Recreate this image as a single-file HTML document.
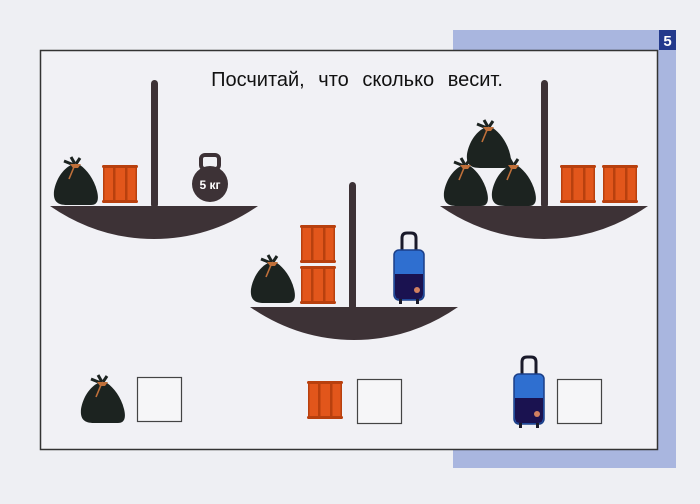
<!DOCTYPE html>
<html><head><meta charset="utf-8"><style>
html,body{margin:0;padding:0;background:#eeeff3;}
svg{display:block}
</style></head><body>
<svg width="700" height="504" viewBox="0 0 700 504" xmlns="http://www.w3.org/2000/svg">
<defs>
<g id="bag">
<path d="M18 10 C10 14 3 24 1 36 C0 46 4 50 14 50 L38 50 C45 50 46 44 44 36 C41 24 34 15 27 10 Z" fill="#1c2320"/>
<path d="M18 2 L22 9 M11 6 L21 10 M27 3 L23 9" stroke="#1c2320" stroke-width="3"/>
<path d="M17 9 L28 9 L25 13 L20 13 Z" fill="#c0703a"/>
<path d="M21 12 L16 24" stroke="#c0703a" stroke-width="1.6"/>
</g>
<g id="crate">
<rect x="1" y="1" width="34" height="38" fill="#e2561b"/>
<rect x="0" y="1" width="36" height="3" rx="1.5" fill="#b8400e"/>
<rect x="0" y="36" width="36" height="3" rx="1.5" fill="#b8400e"/>
<rect x="11" y="2" width="2.5" height="36" fill="#b8400e"/>
<rect x="23" y="2" width="2.5" height="36" fill="#b8400e"/>
<rect x="1" y="2" width="1.5" height="36" fill="#b8400e"/>
<rect x="33.5" y="2" width="1.5" height="36" fill="#b8400e"/>
</g>
<g id="case">
<path d="M9 19 L9 6 Q9 1 14 1 L18 1 Q23 1 23 6 L23 19" fill="none" stroke="#1a1a2a" stroke-width="3"/>
<rect x="1" y="18" width="30" height="50" rx="5" fill="#2f6fd0" stroke="#1b3f88" stroke-width="1.5"/>
<path d="M2 42 L30 42 L30 62 Q30 67 25 67 L7 67 Q2 67 2 62 Z" fill="#1a1250"/>
<circle cx="24" cy="58" r="3" fill="#d08060"/>
<rect x="6" y="67" width="3" height="5" fill="#1a1a2a"/>
<rect x="23" y="67" width="3" height="5" fill="#1a1a2a"/>
</g>
<g id="pan">
<path d="M0 0 L208 0 Q160 33 104 33 Q48 33 0 0 Z" fill="#3d3236"/>
</g>
</defs>
<rect x="453" y="30" width="223" height="438" fill="#a9b6df"/>
<rect x="659" y="30" width="17" height="20" fill="#233a8c"/>
<text x="667.5" y="46" font-family="Liberation Sans, sans-serif" font-size="15" font-weight="bold" fill="#fff" text-anchor="middle">5</text>
<rect x="40.5" y="50.5" width="617" height="399" fill="#f1f1f5" stroke="#333" stroke-width="1.5"/>
<text x="357" y="86" font-family="Liberation Sans, sans-serif" font-size="20" fill="#111" text-anchor="middle" word-spacing="8">Посчитай, что сколько весит.</text>

<rect x="151" y="80" width="7" height="128" rx="3.5" fill="#3d3236"/>
<use href="#pan" x="50" y="206"/>
<use href="#bag" x="53" y="155"/>
<use href="#crate" x="102" y="164"/>
<rect x="201" y="155" width="18" height="14" rx="4" fill="none" stroke="#3d3236" stroke-width="4"/>
<circle cx="210" cy="184" r="18" fill="#3d3236"/>
<text x="210" y="189" font-family="Liberation Sans, sans-serif" font-size="12" font-weight="bold" fill="#fff" text-anchor="middle">5 кг</text>

<rect x="541" y="80" width="7" height="128" rx="3.5" fill="#3d3236"/>
<use href="#pan" x="440" y="206"/>
<use href="#bag" x="466" y="118"/>
<use href="#bag" x="443" y="156"/>
<use href="#bag" x="491" y="156"/>
<use href="#crate" x="560" y="164"/>
<use href="#crate" x="602" y="164"/>

<rect x="349" y="182" width="7" height="128" rx="3.5" fill="#3d3236"/>
<use href="#pan" x="250" y="307"/>
<use href="#bag" x="250" y="253"/>
<use href="#crate" x="300" y="224"/>
<use href="#crate" x="300" y="265"/>
<use href="#case" x="393" y="232"/>

<use href="#bag" x="80" y="373"/>
<rect x="137.5" y="377.5" width="44" height="44" fill="#f6f6f8" stroke="#444" stroke-width="1.2"/>
<use href="#crate" x="307" y="380"/>
<rect x="357.5" y="379.5" width="44" height="44" fill="#f6f6f8" stroke="#444" stroke-width="1.2"/>
<use href="#case" x="513" y="356"/>
<rect x="557.5" y="379.5" width="44" height="44" fill="#f6f6f8" stroke="#444" stroke-width="1.2"/>
</svg>
</body></html>
